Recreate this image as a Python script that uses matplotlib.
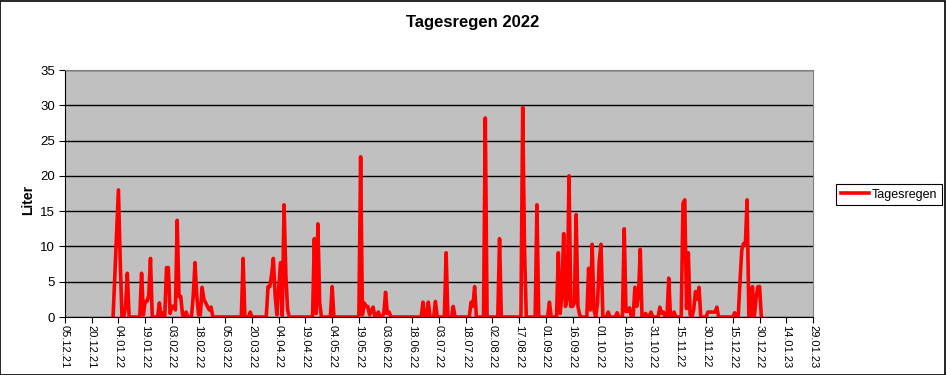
import matplotlib
matplotlib.use("Agg")
import matplotlib.pyplot as plt
import matplotlib.dates as mdates
from matplotlib.patches import Rectangle
import pandas as pd

plt.rcParams['font.family'] = ['Liberation Sans', 'DejaVu Sans']

# days with rain in 2022 (all other days 0)
rain_dates = [
    '2022-01-02', '2022-01-03', '2022-01-04', '2022-01-05', '2022-01-08', '2022-01-09',
    '2022-01-17', '2022-01-18', '2022-01-19', '2022-01-20', '2022-01-21', '2022-01-22',
    '2022-01-27', '2022-01-29', '2022-01-31', '2022-02-01', '2022-02-02', '2022-02-03',
    '2022-02-04', '2022-02-05', '2022-02-06', '2022-02-07', '2022-02-08', '2022-02-09',
    '2022-02-11', '2022-02-15', '2022-02-16', '2022-02-17', '2022-02-18', '2022-02-19',
    '2022-02-20', '2022-02-21', '2022-02-22', '2022-02-23', '2022-02-24', '2022-02-25',
    '2022-03-15', '2022-03-19', '2022-03-29', '2022-03-30', '2022-03-31', '2022-04-01',
    '2022-04-02', '2022-04-03', '2022-04-04', '2022-04-05', '2022-04-06', '2022-04-07',
    '2022-04-08', '2022-04-09', '2022-04-24', '2022-04-25', '2022-04-26', '2022-04-27',
    '2022-05-04', '2022-05-20', '2022-05-21', '2022-05-22', '2022-05-23', '2022-05-24',
    '2022-05-25', '2022-05-26', '2022-05-27', '2022-05-29', '2022-05-30', '2022-06-02',
    '2022-06-03', '2022-06-04', '2022-06-05', '2022-06-24', '2022-06-27', '2022-07-01',
    '2022-07-07', '2022-07-11', '2022-07-21', '2022-07-22', '2022-07-23', '2022-07-29',
    '2022-08-06', '2022-08-19', '2022-08-20', '2022-08-27', '2022-09-03', '2022-09-08',
    '2022-09-09', '2022-09-10', '2022-09-11', '2022-09-12', '2022-09-13', '2022-09-14',
    '2022-09-15', '2022-09-16', '2022-09-17', '2022-09-18', '2022-09-19', '2022-09-20',
    '2022-09-25', '2022-09-26', '2022-09-27', '2022-09-28', '2022-09-30', '2022-10-01',
    '2022-10-02', '2022-10-06', '2022-10-11', '2022-10-15', '2022-10-16', '2022-10-17',
    '2022-10-18', '2022-10-21', '2022-10-22', '2022-10-23', '2022-10-24', '2022-10-27',
    '2022-10-30', '2022-11-04', '2022-11-05', '2022-11-06', '2022-11-09', '2022-11-12',
    '2022-11-17', '2022-11-18', '2022-11-19', '2022-11-20', '2022-11-21', '2022-11-23',
    '2022-11-24', '2022-11-25', '2022-11-26', '2022-12-01', '2022-12-02', '2022-12-03',
    '2022-12-04', '2022-12-05', '2022-12-06', '2022-12-16', '2022-12-19', '2022-12-20',
    '2022-12-21', '2022-12-22', '2022-12-23', '2022-12-26', '2022-12-28', '2022-12-29',
    '2022-12-30',
]
rain_liter = [
    6, 12, 18, 8, 1.5, 6.2,
    6.2, 0.3, 2.2, 2.2, 3, 8.3,
    2, 0.6, 7, 7, 0.5, 1.5,
    1.5, 1.0, 13.7, 2.9, 2.9, 0.3,
    0.7, 3, 7.7, 3, 0.3, 0.3,
    4.2, 2.5, 2.0, 1.5, 1.0, 1.4,
    8.3, 0.7, 4.3, 4.3, 6, 8.3,
    3, 0.3, 4, 7.7, 0.2, 15.9,
    6, 1, 11.1, 0.5, 13.2, 2,
    4.3, 22.7, 0.3, 2.0, 1.5, 1.5,
    0.3, 0.8, 1.4, 0.3, 0.7, 0.5,
    3.5, 0.5, 0.7, 2.1, 2.1, 2.2,
    9.1, 1.5, 2.1, 1.5, 4.3, 28.2,
    11.1, 29.7, 10, 15.9, 2.1, 9.1,
    0.5, 3, 11.8, 1.5, 2.5, 20.0,
    1.5, 1.5, 2.0, 14.5, 1.5, 0.3,
    6.9, 1.0, 10.3, 1.0, 2, 8.0,
    10.3, 0.7, 0.6, 12.5, 0.8, 0.8,
    1.3, 4.2, 1.5, 3.0, 9.6, 0.5,
    0.7, 1.4, 0.5, 0.7, 5.5, 0.7,
    16.1, 16.6, 1.2, 9.1, 0.3, 1.0,
    3.6, 2.5, 4.2, 0.7, 0.7, 0.7,
    0.7, 0.7, 1.4, 0.6, 5, 9.5,
    10.4, 10.2, 16.6, 4.3, 2.5, 4.3,
    4.3,
]

x_start = '2021-12-05'
x_end = '2023-01-29'
y_ticks = [0, 5, 10, 15, 20, 25, 30, 35]

days = pd.date_range('2022-01-01', '2022-12-31', freq='D')
regen = pd.Series(0.0, index=days)
regen[pd.to_datetime(rain_dates)] = rain_liter

W, H = 946, 375
fig = plt.figure(figsize=(W / 100, H / 100), dpi=100)
fig.patch.set_facecolor('white')
ax = fig.add_axes([65 / W, 1 - 317 / H, (813 - 65) / W, (317 - 70) / H])
ax.set_facecolor('#c0c0c0')

ax.plot(regen.index, regen.values, color='#ff0000', lw=2.6, label='Tagesregen')

ax.set_xlim(pd.Timestamp(x_start), pd.Timestamp(x_end))
ax.set_ylim(0, 35)
ax.set_yticks(y_ticks)
ax.yaxis.grid(True, color='black', lw=1)
ax.set_axisbelow(True)

xt = pd.date_range(x_start, x_end, freq='15D')
ax.set_xticks(xt)
ax.xaxis.set_major_formatter(mdates.DateFormatter('%d.%m.%y'))
ax.tick_params(axis='x', labelrotation=270, labelsize=8, length=4, direction='out', pad=2)
ax.tick_params(axis='y', labelsize=9.5, length=4, direction='out', pad=3)

for s in ['top', 'right']:
    ax.spines[s].set_color('#808080')
for s in ['left', 'bottom']:
    ax.spines[s].set_color('black')

fig.text(0.5, 1 - 22 / H, 'Tagesregen 2022', ha='center', va='center',
         fontsize=12, fontweight='bold')
fig.text(28 / W, 1 - 200 / H, 'Liter', ha='center', va='center', rotation=90,
         fontsize=10, fontweight='bold')

leg = fig.legend(loc='center left', bbox_to_anchor=(830 / W, 1 - 194.5 / H),
                 fontsize=9, fancybox=False, framealpha=1, edgecolor='black',
                 handlelength=2.3, borderpad=0.35, handletextpad=0.2)
leg.get_frame().set_linewidth(0.8)

fig.patches.append(Rectangle((0.0005, 0.001), 0.998, 0.997, fill=False, ec='black',
                             lw=1.2, transform=fig.transFigure))

fig.savefig('out.png', dpi=100)
